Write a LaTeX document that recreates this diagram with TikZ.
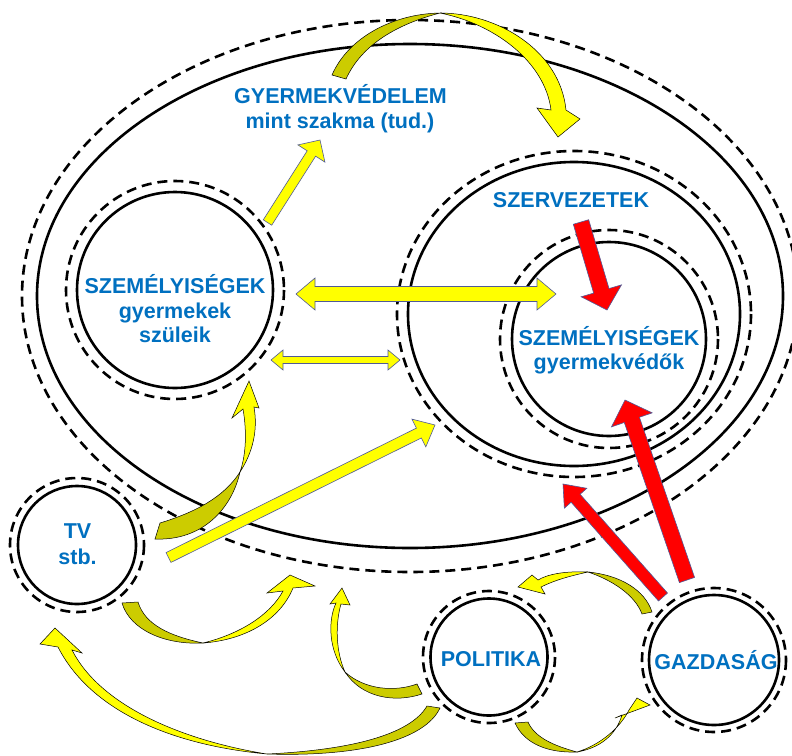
\documentclass[tikz,border=0pt]{standalone}
\usepackage{fontspec}
\setmainfont{Liberation Sans}
\usetikzlibrary{calc}
\definecolor{txtblue}{RGB}{0,112,192}
\definecolor{ayellow}{RGB}{255,255,0}
\definecolor{aolive}{RGB}{204,204,0}
\definecolor{ared}{RGB}{255,0,0}
\definecolor{aedge}{RGB}{80,90,150}
\tikzset{
 solidring/.style={draw=black, line width=2.6pt},
 dashring/.style={draw=black, line width=2.6pt, dash pattern=on 10pt off 6pt},
 lbl/.style={text=txtblue, font=\bfseries\fontsize{21.5}{24}\selectfont, inner sep=0pt, anchor=base},
 yblock/.style={fill=ayellow, draw=aedge, line width=0.6pt, line join=miter},
 rblock/.style={fill=ared, draw=aedge, line width=0.6pt, line join=miter},
 ybend/.style={fill=ayellow, draw=black, line width=0.5pt},
 obend/.style={fill=aolive, draw=black, line width=0.5pt},
}
% style, tail, tip, shaft half width, head half width, head length
\newcommand\blockarrow[6]{%
  \coordinate (ba-h) at ($(#3)!#6!(#2)$);
  \filldraw[#1] ($(#2)!#4!90:(#3)$) -- ($(ba-h)!#4!90:(#3)$) -- ($(ba-h)!#5!90:(#3)$) -- (#3)
    -- ($(ba-h)!#5!-90:(#3)$) -- ($(ba-h)!#4!-90:(#3)$) -- ($(#2)!#4!-90:(#3)$) -- cycle;}
% style, tip A, tip B, shaft half width, head half width, head length
\newcommand\dblarrow[6]{%
  \coordinate (da-a) at ($(#2)!#6!(#3)$);
  \coordinate (da-b) at ($(#3)!#6!(#2)$);
  \filldraw[#1] (#2) -- ($(da-a)!#5!90:(#3)$) -- ($(da-a)!#4!90:(#3)$) -- ($(da-b)!#4!-90:(#2)$)
    -- ($(da-b)!#5!-90:(#2)$) -- (#3) -- ($(da-b)!#5!90:(#2)$) -- ($(da-b)!#4!90:(#2)$)
    -- ($(da-a)!#4!-90:(#3)$) -- ($(da-a)!#5!-90:(#3)$) -- cycle;}
\begin{document}
\begin{tikzpicture}[x=1pt,y=-1pt]
\useasboundingbox (0,0) rectangle (792,755);
\fill[white] (0,0) rectangle (792,755);
% centres
\coordinate (world) at (410,296);
\coordinate (szul) at (175,290);
\coordinate (szerv) at (574,314);
\coordinate (vedo) at (609,339);
\coordinate (tv) at (77,545);
\coordinate (pol) at (489,657);
\coordinate (gazd) at (714,660);
% rings
\draw[dashring] (world) ellipse [x radius=388, y radius=276];
\draw[solidring] (world) ellipse [x radius=373, y radius=252];
\draw[dashring] (szerv) ellipse [x radius=177, y radius=163];
\draw[solidring] (szerv) ellipse [x radius=166, y radius=152];
\draw[dashring] (vedo) circle [radius=109];
\draw[solidring] (vedo) circle [radius=97];
\draw[dashring] (szul) circle [radius=109];
\draw[solidring] (szul) circle [radius=98];
\draw[dashring] (tv) circle [radius=67];
\draw[solidring] (tv) circle [radius=59];
\draw[dashring] (pol) circle [radius=66];
\draw[solidring] (pol) circle [radius=58.5];
\draw[dashring] (gazd) circle [radius=72];
\draw[solidring] (gazd) circle [radius=65];
% labels
\node[lbl] (gv1) at (340.5,103) {GYERMEKVÉDELEM};
\node[lbl] (gv2) at (340,128) {mint szakma (tud.)};
\node[lbl] (sz1) at (571,207) {SZERVEZETEK};
\node[lbl] (sl1) at (175,293) {SZEMÉLYISÉGEK};
\node[lbl] (sl2) at (175,318) {gyermekek};
\node[lbl] (sl3) at (175,342) {szüleik};
\node[lbl] (sr1) at (609,345) {SZEMÉLYISÉGEK};
\node[lbl] (sr2) at (609,369) {gyermekvédők};
\node[lbl] (tv1) at (77.5,538) {TV};
\node[lbl] (tv2) at (77.5,564) {stb.};
\node[lbl] (po1) at (491,666) {POLITIKA};
\node[lbl] (ga1) at (716,669) {GAZDASÁG};
% straight yellow arrows
\coordinate (a1t) at (267.5,222.5); \coordinate (a1h) at (320,140);
\blockarrow{yblock}{a1t}{a1h}{5pt}{16pt}{16pt}
\coordinate (a5t) at (168.5,557.5); \coordinate (a5h) at (435,425);
\blockarrow{yblock}{a5t}{a5h}{5.5pt}{15.5pt}{18pt}
\coordinate (a3l) at (296,294); \coordinate (a3r) at (556,294);
\dblarrow{yblock}{a3l}{a3r}{7.5pt}{16pt}{19pt}
\coordinate (a4l) at (271,360); \coordinate (a4r) at (400,360);
\dblarrow{yblock}{a4l}{a4r}{3.5pt}{10pt}{12pt}
% red arrows
\coordinate (r1t) at (581,222); \coordinate (r1h) at (607,310);
\blockarrow{rblock}{r1t}{r1h}{8pt}{21pt}{20pt}
\coordinate (r2t) at (687,580); \coordinate (r2h) at (625,400);
\blockarrow{rblock}{r2t}{r2h}{8pt}{21.5pt}{21pt}
\coordinate (r3t) at (663,597); \coordinate (r3h) at (563,484);
\blockarrow{rblock}{r3t}{r3h}{6pt}{15pt}{19pt}
% curved arrows
% top arc: gyermekvedelem -> szervezetek
\filldraw[obend] (332,75) .. controls (348,38) and (392,14) .. (440,13) .. controls (398,24) and (362,44) .. (346,79) -- cycle;
\filldraw[ybend] (440,13) .. controls (497,13) and (560,50) .. (566,110) -- (580,119) -- (558,137) -- (537,108) -- (551,110) .. controls (545,62) and (495,24) .. (440,13) -- cycle;
% TV -> szuleik
\filldraw[obend] (160,523) -- (155,539) .. controls (203,541) and (232,508) .. (240,472) .. controls (224,497) and (196,512) .. (160,523) -- cycle;
\filldraw[ybend] (240,472) .. controls (253,452) and (258,430) .. (254,407) -- (259,408) -- (249,381) -- (232,418) -- (243,409) .. controls (247,432) and (246,455) .. (240,472) -- cycle;
% below TV
\filldraw[obend] (122,603) .. controls (130,630) and (165,645) .. (203,643) .. controls (170,636) and (145,625) .. (138,602) -- cycle;
\filldraw[ybend] (203,643) .. controls (245,640) and (280,620) .. (293,588) -- (315,586) -- (290,575) -- (267,593) -- (283,591) .. controls (270,615) and (240,634) .. (203,643) -- cycle;
% big bottom: politika -> TV
\filldraw[obend] (440,708) .. controls (425,740) and (360,757) .. (267,754) .. controls (350,750) and (410,735) .. (427,706) -- cycle;
\filldraw[ybend] (267,754) .. controls (170,745) and (90,710) .. (58,647) -- (40,644) -- (55,628) -- (82,653) -- (72,650) .. controls (100,705) and (180,740) .. (267,754) -- cycle;
% politika left -> up
\filldraw[obend] (422,694) .. controls (395,703) and (362,698) .. (345,672) .. controls (365,690) and (395,692) .. (417,684) -- cycle;
\filldraw[ybend] (345,672) .. controls (328,650) and (328,620) .. (336,603) -- (330,604) -- (342,588) -- (350,605) -- (341,604) .. controls (335,625) and (336,652) .. (345,672) -- cycle;
% gazdasag -> politika (top)
\filldraw[obend] (652,612) .. controls (645,590) and (620,575) .. (588,572) .. controls (612,580) and (635,595) .. (642,614) -- cycle;
\filldraw[ybend] (588,572) .. controls (565,571) and (548,574) .. (538,580) -- (532,575) -- (518,587) -- (545,594) -- (541,587) .. controls (555,580) and (570,576) .. (588,572) -- cycle;
% politika -> gazdasag (bottom)
\filldraw[obend] (515,723) .. controls (525,745) and (550,753) .. (577,752) .. controls (555,746) and (535,738) .. (528,722) -- cycle;
\filldraw[ybend] (577,752) .. controls (600,748) and (616,735) .. (622,715) -- (615,718) -- (650,705) -- (637,698) -- (629,710) .. controls (620,728) and (600,745) .. (577,752) -- cycle;
\end{tikzpicture}
\end{document}
